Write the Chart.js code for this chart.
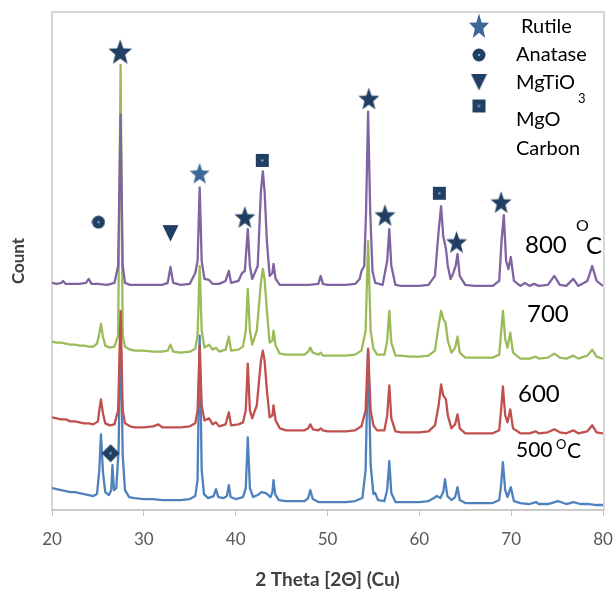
<!DOCTYPE html>
<html>
<head>
<meta charset="utf-8">
<script src="https://cdn.jsdelivr.net/npm/chart.js@4.4.1/dist/chart.umd.min.js"></script>
<style>
  html, body { margin: 0; padding: 0; background: #fff; }
</style>
</head>
<body>
<canvas id="grafica" width="616" height="594"></canvas>
<script>
// patrones de difraccion: [2theta, cuentas (con desplazamiento)]
const serie500 = [[20,22],[20.5,21],[21,20],[21.5,19],[22,18],[22.5,18],[23,17],[23.5,16],[24,15],[24.5,14],[24.9,16],
  [25.15,40],[25.33,76],[25.55,38],[25.8,18],[26.2,15],[26.45,20],[26.58,45],[26.75,20],[27.0,22],[27.25,60],[27.47,185],
  [27.7,55],[27.95,20],[28.4,13],[29,12],[30,11],[31,11],[32,10],[33,10],[34,10],[35,11],[35.6,14],[35.85,30],[36.08,175],
  [36.3,40],[36.55,16],[37,12],[37.6,14],[37.86,21],[38.1,13],[38.7,12],[39.05,14],[39.26,25],[39.45,13],[40,11],[40.8,13],
  [41.1,22],[41.32,73],[41.55,22],[41.9,13],[42.4,15],[42.8,18],[43.3,17],[43.8,13],[44.0,18],[44.12,30],[44.3,16],[44.7,10],
  [45.5,9],[46.5,9],[47.5,9],[47.9,12],[48.13,20],[48.4,11],[49,8],[50,8],[51,8],[52,8],[53,9],[53.8,12],[54.15,40],[54.42,160],
  [54.7,45],[55.0,16],[55.2,17],[55.5,10],[56.2,9],[56.5,20],[56.73,49],[56.95,17],[57.4,8],[58,8],[59,8],[60,8],[61,9],
  [61.6,12],[61.9,14],[62.3,12],[62.6,18],[62.8,31],[63.05,14],[63.5,10],[63.9,13],[64.16,23],[64.4,10],[65,7],[66,7],[67,7],
  [68,7],[68.7,10],[68.9,25],[69.1,48],[69.35,20],[69.6,13],[69.96,23],[70.3,9],[71,7],[72,6],[72.7,8],[73,6],[74,6],[75.1,9],
  [76,6],[76.8,8],[77.5,6],[78.5,6],[79.3,5],[80,5]]

const serie600 = [[20,93],[20.5,92],[21,91],[21.5,91],[22,89],[22.5,89],[23,88],[23.5,87],[24,87],[24.5,86],[25.0,89],
  [25.15,100],[25.33,111],[25.55,97],[25.8,87],[26.3,85],[26.8,86],[27.2,100],[27.47,200],[27.7,100],[27.95,87],[28.5,84],
  [29,83],[30,83],[31,84],[31.6,86],[32,83],[33,83],[34,83],[35,84],[35.6,87],[35.85,100],[36.08,165],[36.3,105],[36.6,90],
  [37.1,92],[37.5,86],[37.86,88],[38.2,84],[38.9,86],[39.26,98],[39.5,85],[40.3,86],[40.8,88],[41.1,100],[41.32,147],
  [41.55,100],[41.8,92],[42.3,105],[42.75,150],[42.96,160],[43.15,150],[43.4,120],[43.7,93],[44.0,95],[44.12,105],[44.35,90],
  [44.8,82],[45.5,80],[46.5,80],[47.5,80],[47.9,82],[48.13,86],[48.4,81],[49,80],[49.26,82],[49.5,80],[50,79],[51,79],[52,79],
  [53,80],[53.7,84],[54.15,100],[54.42,162],[54.7,100],[55.0,85],[55.4,80],[56.2,80],[56.5,95],[56.73,125],[56.95,92],
  [57.4,79],[58,78],[59,78],[60,78],[61,79],[61.7,85],[62.1,105],[62.37,126],[62.6,115],[62.9,111],[63.1,95],[63.5,82],
  [63.9,86],[64.16,96],[64.4,82],[65,77],[66,77],[67,77],[68,77],[68.7,80],[68.9,100],[69.1,124],[69.35,95],[69.6,88],
  [69.9,101],[70.2,82],[71,77],[72,77],[72.7,79],[73,77],[74,78],[74.7,81],[75.3,78],[76,77],[76.77,80],[77.3,77],[78.3,79],
  [78.83,85],[79.3,78],[80,77]]

const serie700 = [[20,169],[20.5,168],[21,168],[21.5,167],[22,166],[22.5,166],[23,165],[23.5,165],[24,164],[24.5,164],
  [24.9,167],[25.15,177],[25.33,187],[25.55,174],[25.8,165],[26.3,163],[26.8,164],[27.2,175],[27.47,447],[27.7,175],
  [27.95,164],[28.5,161],[29,160],[30,160],[31,159],[32,159],[32.6,160],[32.9,166],[33.2,159],[34,158],[35,159],[35.6,162],
  [35.85,175],[36.08,245],[36.3,180],[36.6,163],[37.1,166],[37.5,161],[37.86,163],[38.2,159],[38.9,161],[39.26,174],
  [39.5,160],[40.3,161],[40.8,164],[41.1,180],[41.32,222],[41.55,180],[41.8,166],[42.3,180],[42.75,228],[42.96,242],
  [43.15,232],[43.4,200],[43.7,168],[44.0,170],[44.12,180],[44.35,165],[44.8,157],[45.5,156],[46.5,156],[47.5,156],
  [47.9,159],[48.13,163],[48.4,158],[49,156],[49.26,158],[49.5,155],[50,155],[51,155],[52,155],[53,156],[53.7,160],
  [54.15,180],[54.42,270],[54.7,180],[55.0,162],[55.4,156],[56.2,156],[56.5,170],[56.73,200],[56.95,168],[57.4,155],
  [58,155],[59,154],[60,154],[61,155],[61.7,160],[62.1,185],[62.37,200],[62.6,192],[62.85,188],[63.1,170],[63.5,158],
  [63.9,163],[64.16,174],[64.4,158],[65,153],[66,153],[67,153],[68,153],[68.7,156],[68.9,178],[69.1,200],[69.35,172],
  [69.6,163],[69.9,178],[70.2,158],[71,152],[72,152],[72.7,154],[73,152],[74,153],[74.7,157],[75.3,153],[76,152],
  [76.77,155],[77.3,152],[78.3,155],[78.83,161],[79.3,154],[80,152]]

const serie800 = [[20,228],[20.5,227],[21,228],[21.2,230],[21.5,227],[22,227],[23,227],[23.7,228],[24.0,232],[24.3,227],
  [25,227],[26,226],[26.8,228],[27.2,245],[27.47,397],[27.7,245],[27.95,228],[28.5,226],[29,226],[30,226],[31,226],[32,226],
  [32.6,228],[32.9,244],[33.2,228],[34,226],[35,227],[35.6,238],[35.85,250],[36.08,324],[36.3,250],[36.6,232],[37.1,231],
  [37.5,227],[38.2,227],[38.9,230],[39.26,240],[39.5,228],[40.3,230],[40.7,238],[41.0,240],[41.32,282],[41.55,245],
  [41.8,232],[42.4,245],[42.75,320],[42.96,340],[43.15,320],[43.4,270],[43.7,235],[44.0,238],[44.12,247],[44.35,232],
  [44.8,226],[46,226],[47,226],[48,226],[49,227],[49.26,235],[49.5,227],[50,226],[51,226],[52,226],[53,227],[53.5,232],
  [53.7,240],[54.0,245],[54.2,300],[54.42,400],[54.65,300],[54.9,240],[55.2,228],[56,226],[56.5,250],[56.73,282],
  [56.95,245],[57.4,226],[58,225],[59,225],[60,225],[61,226],[61.7,235],[62.1,280],[62.37,305],[62.6,275],[62.9,262],
  [63.1,245],[63.4,232],[63.7,238],[63.95,245],[64.16,257],[64.4,235],[65,226],[66,225],[67,225],[68,225],[68.7,230],
  [68.95,270],[69.2,296],[69.45,250],[69.7,242],[69.96,254],[70.3,230],[71,225],[71.5,228],[72,225],[72.5,227],[73,225],
  [74,226],[74.7,235],[75.3,226],[76,225],[76.77,232],[77.3,225],[78.3,230],[78.83,245],[79.3,230],[80,225]]

// posiciones de las marcas de fase
const rutilo = [[27.43,460],[36.07,338],[41.0,294],[54.5,413],[56.26,296],[64.05,269],[68.9,309]]
const anatasa = [[25.06,289]]
const mgtio3 = [[32.9,278]]
const mgo = [[42.9,351],[62.18,318]]
const carbono = [[26.38,57]]

const TICKS_X = [20, 30, 40, 50, 60, 70, 80]

const OSCURO = '#213f63'
const CLARO = '#3b6897'
const FUENTE = 'Lato, "Open Sans", sans-serif'

function icono(tipo, ancho, alto, color){
  const c = document.createElement('canvas')
  c.width = ancho; c.height = alto
  const g = c.getContext('2d')
  const mx = ancho / 2, my = alto / 2
  g.fillStyle = color
  g.beginPath()
  if(tipo === 'estrella'){
    const R = mx - 0.5, r = R * 0.42, k = (my - 0.5) / R
    for(let i = 0; i < 10; i++){
      const a = -Math.PI / 2 + i * Math.PI / 5
      const rad = i % 2 === 0 ? R : r
      const px = mx + rad * Math.cos(a), py = my + 1 + rad * Math.sin(a) * k
      if(i === 0) g.moveTo(px, py); else g.lineTo(px, py)
    }
    g.closePath(); g.fill()
  } else if(tipo === 'circulo'){
    g.arc(mx, my, mx - 0.5, 0, Math.PI * 2); g.fill()
  } else if(tipo === 'triangulo'){
    g.moveTo(0.5, 1); g.lineTo(ancho - 0.5, 1); g.lineTo(mx, alto - 0.5); g.closePath(); g.fill()
  } else if(tipo === 'cuadro'){
    g.rect(1, 1, ancho - 2, alto - 2); g.fill()
  } else if(tipo === 'rombo'){
    g.moveTo(mx, 0.5); g.lineTo(ancho - 0.5, my); g.lineTo(mx, alto - 0.5); g.lineTo(0.5, my); g.closePath(); g.fill()
  }
  if(tipo === 'circulo' || tipo === 'cuadro' || tipo === 'rombo'){
    g.fillStyle = '#7fa8d8'
    g.beginPath(); g.arc(mx, my, 1.2, 0, Math.PI * 2); g.fill()
  }
  return c
}

const estrellaGrande = icono('estrella', 26, 28, OSCURO)
const estrella = icono('estrella', 23, 25, OSCURO)
const estrellaClara = icono('estrella', 22, 24, CLARO)
const circulo = icono('circulo', 14, 14, OSCURO)
const triangulo = icono('triangulo', 17, 18, OSCURO)
const cuadro = icono('cuadro', 15, 15, OSCURO)
const rombo = icono('rombo', 19, 19, OSCURO)
const estrellaLeyenda = icono('estrella', 22, 28, CLARO)

const aPuntos = arr => arr.map(p => ({x: p[0], y: p[1]}))

function linea(label, datos, color, orden){
  return { type: 'line', label: label, data: aPuntos(datos), borderColor: color, borderWidth: 2.3,
    borderJoinStyle: 'round', pointRadius: 0, tension: 0, fill: false, order: orden }
}

function marcas(label, datos, estilo){
  return { type: 'scatter', label: label, data: aPuntos(datos), pointStyle: estilo,
    pointRadius: 10, showLine: false, order: 0 }
}

const textos = {
  id: 'textos',
  beforeDatasetsDraw(chart){
    const {ctx, chartArea: a} = chart
    ctx.save()
    ctx.strokeStyle = '#c9c9c9'
    ctx.lineWidth = 1.5
    ctx.strokeRect(a.left, a.top, a.right - a.left + 1, a.bottom - a.top)
    ctx.restore()
  },
  afterDraw(chart){
    const ctx = chart.ctx
    ctx.save()
    ctx.fillStyle = '#000'
    ctx.textBaseline = 'middle'
    const t = (s, x, y, size) => { ctx.font = size + 'px ' + FUENTE; ctx.fillText(s, x, y) }
    // etiquetas de temperatura
    t('800', 525, 245, 24); t('O', 576, 226, 16); t('C', 586, 246, 24)
    t('700', 527, 314, 24)
    t('600', 518, 394, 24)
    t('500', 516, 450, 21); t('O', 556, 445, 13); t('C', 567, 451, 21)
    // leyenda
    const ic = (img, x, y) => ctx.drawImage(img, x - img.width / 2, y - img.height / 2)
    ic(estrellaLeyenda, 479, 26)
    ic(circulo, 479, 55)
    ic(triangulo, 479, 82)
    ic(cuadro, 479, 106)
    t('Rutile', 521, 27, 20)
    t('Anatase', 516, 55, 20)
    t('MgTiO', 516, 83, 20)
    t('3', 578, 99, 13)
    t('MgO', 516, 120, 20)
    t('Carbon', 516, 149, 20)
    ctx.restore()
  }
}

new Chart(document.getElementById('grafica').getContext('2d'), {
  data: {
    datasets: [
      marcas('Rutile', rutilo, [estrellaGrande, estrellaClara, estrella, estrella, estrella, estrella, estrella]),
      marcas('Anatase', anatasa, circulo),
      marcas('MgTiO3', mgtio3, triangulo),
      marcas('MgO', mgo, cuadro),
      marcas('Carbon', carbono, rombo),
      linea('800', serie800, '#8064a2', 1),
      linea('600', serie600, '#c0504d', 2),
      linea('700', serie700, '#9bbb59', 3),
      linea('500', serie500, '#4f81bd', 4)
    ]
  },
  options: {
    responsive: false,
    animation: false,
    events: [],
    layout: { padding: { top: 12, right: 13, left: 0, bottom: 0 } },
    plugins: { legend: { display: false }, tooltip: { enabled: false } },
    scales: {
      x: {
        type: 'linear', min: 20, max: 80,
        afterBuildTicks: s => { s.ticks = TICKS_X.map(v => ({value: v})) },
        ticks: { color: '#595959', font: { family: FUENTE, size: 17 }, padding: 13, maxRotation: 0 },
        grid: { drawOnChartArea: false, tickLength: 6, color: '#bfbfbf' },
        border: { color: '#bfbfbf', width: 1.5 },
        title: { display: true, text: '2 Theta [2Θ] (Cu)', color: '#404040',
          font: { family: FUENTE, size: 19, weight: 'bold' }, padding: { top: 4, bottom: 3 } },
        afterFit: s => { s.height = 84; s.paddingLeft = 0; s.paddingRight = 0 }
      },
      y: {
        type: 'linear', min: 0, max: 500,
        ticks: { display: false },
        grid: { display: false },
        border: { display: false },
        title: { display: true, text: 'Count', color: '#404040',
          font: { family: FUENTE, size: 17, weight: 'bold' }, padding: { top: 8, bottom: 0 } },
        afterFit: s => { s.width = 52 }
      }
    }
  },
  plugins: [textos]
})
</script>
</body>
</html>
